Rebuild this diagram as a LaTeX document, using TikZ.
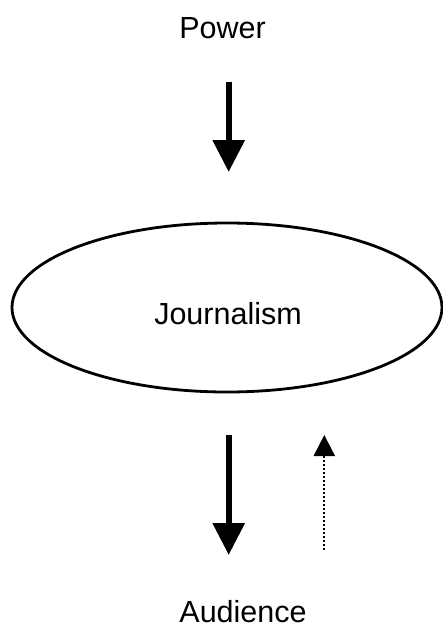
\documentclass[tikz,border=0pt]{standalone}
\usepackage{fontspec}
\setmainfont{Liberation Sans}
\usetikzlibrary{arrows.meta,shapes.geometric}
\begin{document}
\begin{tikzpicture}[x=1pt,y=-1pt,
  lbl/.style={inner sep=0pt,anchor=base,font=\fontsize{30.5}{36}\selectfont},
  bigarrow/.style={line width=6.2pt,-{Triangle[width=31pt,length=32pt]}},
  dotarrow/.style={line width=2pt,dash pattern=on 1.6pt off 2.4pt,-{Triangle[width=21pt,length=21pt]}}]
\useasboundingbox (0,0) rectangle (443,630);
\node[draw,line width=2.8pt,ellipse,minimum width=430pt,minimum height=169pt,inner sep=0pt] (j) at (227,307.5) {};
\node[lbl] (jt) at (228,324) {Journalism};
\node[lbl] (pw) at (222.5,38) {Power};
\node[lbl] (au) at (243,622) {Audience};
\coordinate (a1s) at (228.7,82);
\coordinate (a1e) at (228.7,172);
\coordinate (a2s) at (228.7,435);
\coordinate (a2e) at (228.7,555);
\coordinate (a3s) at (324.3,550);
\coordinate (a3e) at (324.3,435);
\draw[bigarrow] (a1s) -- (a1e);
\draw[bigarrow] (a2s) -- (a2e);
\draw[dotarrow] (a3s) -- (a3e);
\end{tikzpicture}
\end{document}
